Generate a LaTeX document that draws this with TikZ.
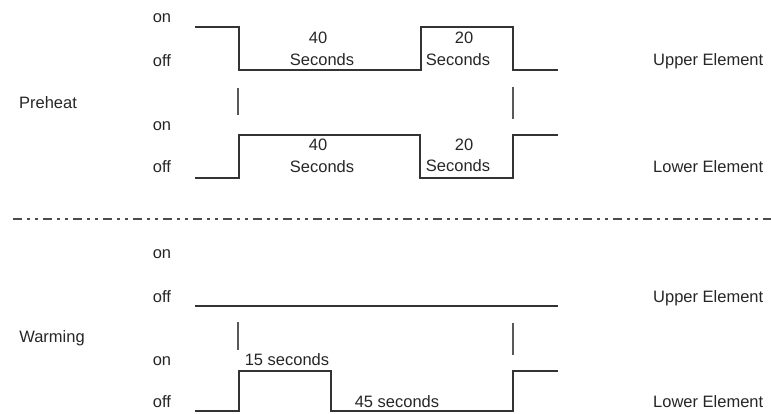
\documentclass[tikz,border=0pt]{standalone}
\usepackage{fontspec}
\setmainfont{Liberation Sans}
\usepackage{tikz}

\begin{document}
\begin{tikzpicture}[x=1pt,y=-1pt,
  lbl/.style={anchor=base,inner sep=0pt,text=black!85,font=\fontsize{16.5}{19}\selectfont},
  wave/.style={line width=1.6pt,black!80},
  marker/.style={line width=1.3pt,black!65}]
\useasboundingbox (0,0) rectangle (771,413);
% on / off levels
\foreach \y/\t [count=\i] in {22/on,66/off,130/on,172/off,258/on,302/off,365/on,407/off} {
  \node[lbl] (lev\i) at (162,\y) {\t};
}
\node[lbl] (preheat) at (48,108) {Preheat};
\node[lbl] (warming) at (52,342) {Warming};
\foreach \y/\t [count=\i] in {65/Upper,172/Lower,302/Upper,407/Lower} {
  \node[lbl,anchor=base west] (elem\i) at (653,\y) {\t\ Element};
}
% preheat
\draw[wave] (195,27) -- (239,27) -- (239,70) -- (421,70) -- (421,27) -- (513,27) -- (513,70) -- (558,70);
\draw[wave] (195,178) -- (239,178) -- (239,135) -- (420,135) -- (420,178) -- (513,178) -- (513,135) -- (558,135);
\draw[marker] (238,88) -- (238,115);
\draw[marker] (513,87) -- (513,119);
\node[lbl] (ua) at (318,43) {40};
\node[lbl] (ub) at (322,65) {Seconds};
\node[lbl] (uc) at (464,43) {20};
\node[lbl] (ud) at (458,65) {Seconds};
\node[lbl] (la) at (318,150) {40};
\node[lbl] (lb) at (322,172) {Seconds};
\node[lbl] (lc) at (464,150) {20};
\node[lbl] (ld) at (458,171) {Seconds};
% separator
\draw[line width=1.6pt,black!70,dash pattern=on 9pt off 5pt on 3pt off 5pt on 3pt off 5pt] (13,219) -- (771,219);
% warming
\draw[wave,line width=2.2pt] (195,306) -- (558,306);
\draw[wave] (195,411) -- (239,411) -- (239,371) -- (331,371) -- (331,411) -- (513,411) -- (513,371) -- (558,371);
\draw[marker] (238,322) -- (238,350);
\draw[marker] (513,323) -- (513,355);
\node[lbl] (on15) at (287,365) {15 seconds};
\node[lbl] (off45) at (397,407) {45 seconds};
\end{tikzpicture}
\end{document}
